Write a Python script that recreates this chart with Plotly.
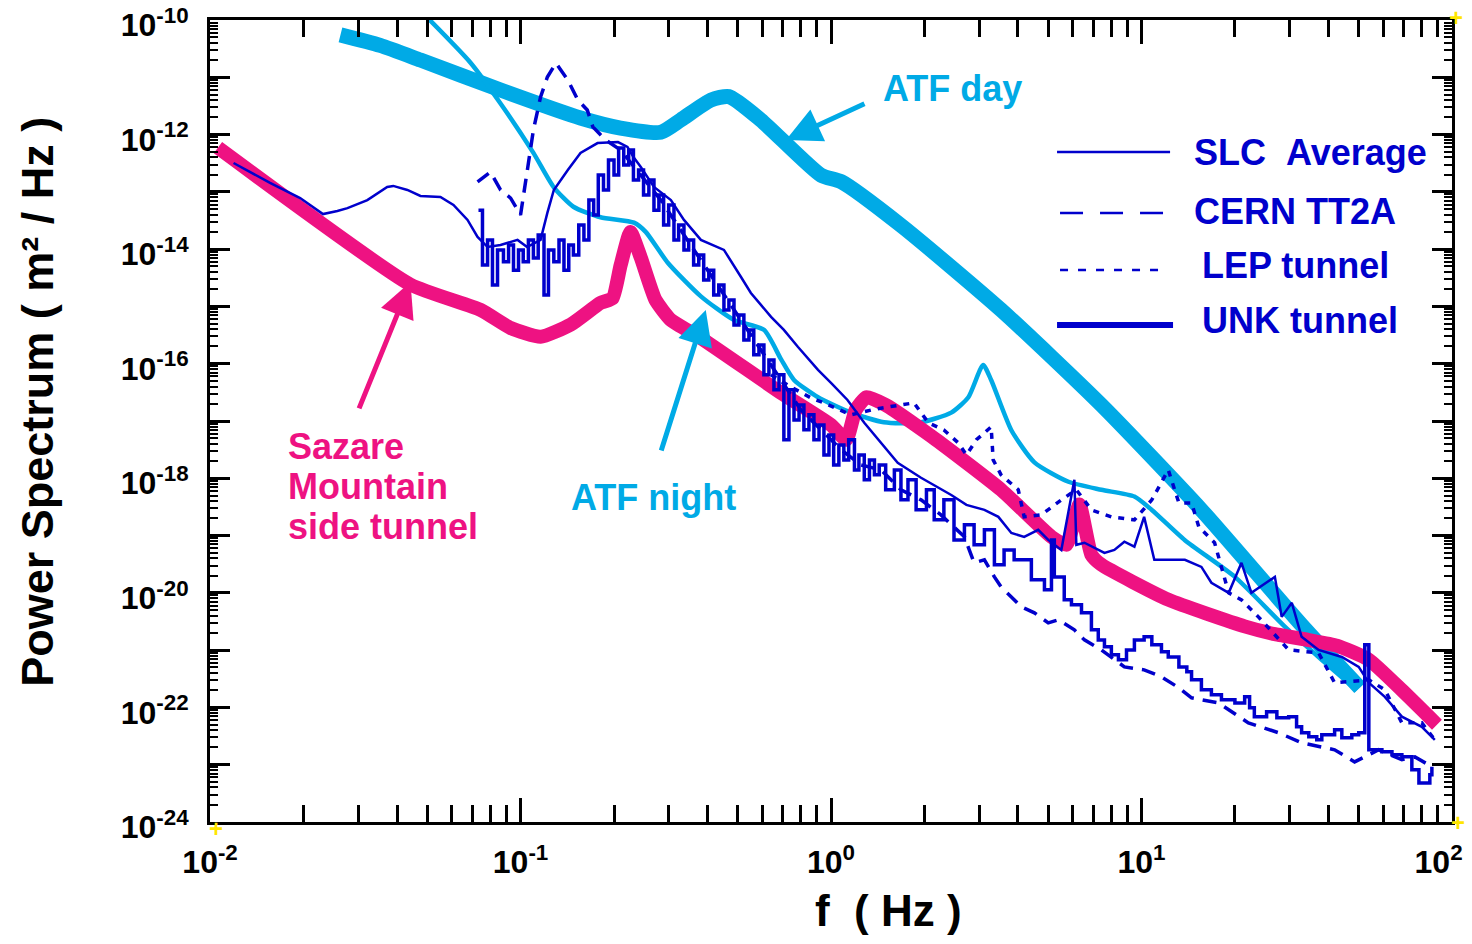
import numpy as np
import plotly.graph_objects as go

# ---------------- data (frequency in Hz, power spectrum in m^2/Hz) ----------------
sazare_f = [0.0106, 0.0442, 0.0743, 0.0929, 0.116, 0.145, 0.181, 0.198, 0.210, 0.226,
            0.244, 0.272, 0.305, 0.381, 0.690, 1.00, 1.12, 1.20, 1.30, 1.50, 2.18, 3.53,
            5.13, 5.73, 6.31, 6.90, 7.43, 12.2, 21.5, 26.9, 34.6, 42.6, 54.0, 69.0, 89.5]
sazare_psd = [5.9e-13, 2.4e-15, 8.7e-16, 4.2e-16, 2.95e-16, 4.8e-16, 1.15e-15, 1.4e-15, 5.2e-15, 2.0e-14,
              7.1e-15, 1.3e-15, 5.8e-16, 2.8e-16, 3.1e-17, 8.5e-18, 4.7e-18, 1.55e-17, 2.6e-17, 1.9e-17, 4.7e-18, 6.3e-19,
              9.5e-20, 6.9e-20, 3.5e-19, 4.6e-20, 3.1e-20, 7.6e-21, 2.6e-21, 1.9e-21, 1.5e-21, 1.2e-21, 6.8e-22, 2.0e-22, 5.0e-23]

atf_day_f = [0.0263, 0.0353, 0.0476, 0.0862, 0.156, 0.210, 0.283, 0.328, 0.410, 0.469,
             0.594, 0.929, 1.08, 1.68, 3.53, 7.43, 15.6, 32.8, 50.5]
atf_day_psd = [5.5e-11, 3.6e-11, 2.0e-11, 6.0e-12, 1.95e-12, 1.3e-12, 1.1e-12, 1.8e-12, 4.0e-12, 4.6e-12,
               1.8e-12, 1.95e-13, 1.5e-13, 2.6e-14, 8.7e-16, 1.9e-17, 2.8e-19, 2.75e-21, 2.2e-22]

atf_night_f = [0.0458, 0.069, 0.0862, 0.110, 0.128, 0.148, 0.181, 0.232, 0.253, 0.298, 0.381, 0.487,
               0.608, 0.690, 0.760, 0.908, 1.16, 1.48, 1.91, 2.44, 2.77, 3.09, 3.28, 3.81, 4.52,
               5.82, 7.43, 9.49, 10.8, 13.8, 20.0, 28.9, 37.2, 49.4]
atf_night_psd = [1.8e-10, 1.8e-11, 3.5e-12, 4.8e-13, 1.2e-13, 5.5e-14, 3.6e-14, 2.9e-14, 2.0e-14, 5.8e-15, 1.5e-15, 5.8e-16,
                 3.9e-16, 1.2e-16, 5.2e-17, 2.6e-17, 1.4e-17, 9.5e-18, 9.3e-18, 1.4e-17, 2.6e-17, 9.5e-17, 5.2e-17, 6.9e-18, 1.9e-18,
                 8.7e-19, 6.3e-19, 4.8e-19, 2.8e-19, 8.3e-20, 1.9e-20, 2.6e-21, 7.6e-22, 2.0e-22]

slc_f = [0.0119, 0.0156, 0.0195, 0.0231, 0.0257, 0.0277, 0.0321, 0.0372, 0.0389, 0.0432, 0.0476,
         0.0552, 0.0608, 0.0675, 0.0727, 0.0783, 0.0862, 0.0978, 0.105, 0.116, 0.122, 0.128, 0.142,
         0.156, 0.177, 0.206, 0.221, 0.231, 0.244, 0.269, 0.305, 0.336, 0.381, 0.452, 0.513, 0.552,
         0.641, 0.705, 0.783, 0.908, 1.00, 1.13, 1.28, 1.45, 1.64, 1.95, 2.44, 2.73, 3.12, 3.46,
         3.81, 4.19, 4.65, 5.01, 5.52, 6.08, 6.17, 6.55, 7.60, 8.18, 8.81, 9.49, 10.2, 11.0, 13.8,
         15.6, 16.8, 19.1, 21.0, 22.6, 26.9, 28.3, 30.5, 32.8, 37.2, 44.2, 50.1, 54.0, 60.8, 69.0,
         80.0, 88.1]
slc_psd = [3.19e-13, 1.43e-13, 7.8e-14, 4.1e-14, 4.65e-14, 5.2e-14, 7.2e-14, 1.22e-13, 1.27e-13, 1.08e-13, 8.5e-14,
           8.15e-14, 5.9e-14, 3.24e-14, 1.63e-14, 1.09e-14, 1.18e-14, 1.45e-14, 1.09e-14, 1.45e-14, 4.29e-14, 1.08e-13, 2.41e-13,
           4.77e-13, 7.1e-13, 7.4e-13, 6.1e-13, 4.06e-13, 2.72e-13, 1.22e-13, 7.2e-14, 3.24e-14, 1.45e-14, 9.7e-15, 3.27e-15, 1.72e-15,
           6.56e-16, 3.89e-16, 1.96e-16, 7.8e-17, 4.62e-17, 2.33e-17, 9.3e-18, 4.15e-18, 1.86e-18, 1.02e-18, 5.1e-19, 3.44e-19, 2.81e-19, 2.12e-19,
           1.11e-19, 9.5e-20, 1.26e-19, 8.4e-20, 5.6e-20, 9.4e-19, 6.9e-20, 7.5e-20, 4.99e-20, 5.6e-20, 7.8e-20, 6.4e-20, 2.12e-19, 3.77e-20, 3.77e-20,
           2.84e-20, 1.50e-20, 1.0e-20, 3.34e-20, 1.0e-20, 1.90e-20, 3.81e-21, 6.7e-21, 1.71e-21, 1.01e-21, 7.6e-22, 5.1e-22, 2.69e-22, 1.53e-22, 6.9e-23,
           4.58e-23, 2.72e-23]

cern_f = [0.0727, 0.0800, 0.0862, 0.0929, 0.100, 0.104, 0.110, 0.116, 0.122, 0.130, 0.142, 0.153,
          0.164, 0.171, 0.188, 0.210, 0.244, 0.283, 0.328, 0.381, 0.442, 0.513, 0.594, 0.690,
          0.800, 0.929, 1.08, 1.25, 1.45, 1.68, 1.95, 2.26, 2.69, 2.89, 3.12, 3.36, 3.53, 3.81,
          4.10, 4.52, 5.01, 5.40, 6.08, 6.55, 7.43, 8.81, 10.2, 11.6, 13.2, 14.5, 17.7, 22.1,
          27.7, 32.8, 41.9, 48.6, 58.1, 69.0, 76.0, 86.2]
cern_psd = [1.49e-13, 2.22e-13, 1.08e-13, 7.8e-14, 3.95e-14, 1.61e-13, 1.20e-12, 4.53e-12, 1.01e-11, 1.78e-11, 8.97e-12, 4.02e-12,
            2.69e-12, 1.36e-12, 8.05e-13, 5.38e-13, 1.97e-13, 7.2e-14, 2.16e-14, 6.48e-15, 1.94e-15, 5.81e-16, 1.74e-16, 5.21e-17,
            1.56e-17, 7.0e-18, 3.13e-18, 1.71e-18, 1.40e-18, 6.3e-19, 4.2e-19, 2.30e-19, 9.5e-20, 3.34e-20, 3.77e-20, 1.90e-20, 1.27e-20, 8.5e-21,
            5.7e-21, 4.48e-21, 2.99e-21, 3.38e-21, 2.26e-21, 1.51e-21, 1.01e-21, 5.1e-22, 4.53e-22, 3.42e-22, 2.20e-22, 1.47e-22, 1.20e-22, 5.38e-23,
            3.6e-23, 2.41e-23, 1.82e-23, 1.12e-23, 1.82e-23, 1.22e-23, 1.37e-23, 9.2e-24]

lep_f = [0.641, 0.743, 0.862, 0.949, 1.16, 1.35, 1.53, 1.85, 2.06, 2.31, 2.57, 2.73, 2.94,
         3.28, 3.33, 3.53, 4.01, 4.19, 4.76, 5.52, 6.17, 6.90, 8.00, 9.49, 10.8, 12.2, 13.2,
         14.5, 15.3, 17.2, 19.1, 21.0, 23.8, 29.8, 37.2, 41.9, 54.0, 60.8, 69.0, 80.0, 88.1]
lep_psd = [6.4e-17, 3.94e-17, 2.53e-17, 2.07e-17, 1.28e-17, 1.56e-17, 1.76e-17, 2.07e-17, 9.3e-18, 7.0e-18, 4.15e-18, 2.56e-18, 4.7e-18,
           7.9e-18, 2.09e-18, 1.15e-18, 6.3e-19, 2.12e-19, 2.30e-19, 4.2e-19, 6.3e-19, 2.81e-19, 2.12e-19, 1.88e-19, 4.2e-19, 1.40e-18, 3.72e-19,
           3.72e-19, 1.42e-19, 7.5e-20, 1.0e-20, 7.55e-21, 3.81e-21, 1.01e-21, 8.97e-22, 2.69e-22, 3.03e-22, 2.03e-22, 5.38e-23, 5.38e-23, 2.72e-23]

unk_f = [0.0732, 0.0754, 0.0783, 0.0812, 0.0843, 0.0881, 0.0915, 0.0949, 0.0985, 0.102, 0.106, 0.110,
         0.114, 0.119, 0.123, 0.128, 0.133, 0.138, 0.143, 0.148, 0.154, 0.160, 0.166, 0.172, 0.178,
         0.185, 0.192, 0.200, 0.207, 0.215, 0.223, 0.231, 0.240, 0.249, 0.259, 0.269, 0.279, 0.289,
         0.300, 0.312, 0.323, 0.336, 0.348, 0.361, 0.375, 0.389, 0.404, 0.419, 0.435, 0.452, 0.469,
         0.487, 0.505, 0.524, 0.544, 0.564, 0.586, 0.608, 0.631, 0.655, 0.680, 0.705, 0.732, 0.760,
         0.789, 0.818, 0.849, 0.881, 0.915, 0.949, 0.985, 1.02, 1.06, 1.10, 1.14, 1.19, 1.23, 1.28,
         1.33, 1.38, 1.43, 1.50, 1.60, 1.68, 1.77, 1.88, 2.03, 2.15, 2.31, 2.49, 2.69, 2.89, 3.12,
         3.36, 3.61, 3.89, 4.42, 4.87, 5.13, 5.24, 5.64, 5.95, 6.41, 6.90, 7.26, 7.60, 8.00, 8.43,
         8.95, 9.49, 10.2, 10.8, 11.6, 12.2, 13.2, 14.0, 14.5, 15.6, 16.8, 18.1, 20.0, 21.5, 22.3,
         23.1, 25.3, 27.3, 29.8, 31.6, 32.8, 34.6, 36.7, 38.1, 41.9, 44.2, 47.6, 50.1, 52.4, 54.0,
         59.5, 64.1, 69.0, 74.3, 78.3, 84.9, 86.2]
unk_psd = [4.8e-14, 5.3e-15, 1.45e-14, 2.37e-15, 9.7e-15, 6.0e-15, 1.18e-14, 4.3e-15, 9.7e-15, 6.0e-15, 1.45e-14, 7.0e-15,
           1.77e-14, 1.59e-15, 9.7e-15, 6.0e-15, 1.45e-14, 4.3e-15, 1.18e-14, 7.9e-15, 2.64e-14, 1.45e-14, 7.2e-14, 3.95e-14, 1.97e-13,
           1.08e-13, 3.6e-13, 1.97e-13, 5.83e-13, 2.94e-13, 5.38e-13, 1.61e-13, 2.41e-13, 8.8e-14, 1.61e-13, 4.8e-14, 8.8e-14, 2.64e-14,
           5.9e-14, 1.45e-14, 2.64e-14, 9.7e-15, 1.45e-14, 5.3e-15, 7.9e-15, 2.9e-15, 4.3e-15, 1.59e-15, 2.37e-15, 8.7e-16, 1.30e-15,
           4.75e-16, 7.1e-16, 2.6e-16, 3.89e-16, 1.43e-16, 2.13e-16, 6.4e-17, 1.16e-16, 3.5e-17, 6.4e-17, 4.7e-18, 3.5e-17, 1.04e-17,
           1.91e-17, 7.0e-18, 1.28e-17, 4.7e-18, 8.55e-18, 2.56e-18, 5.7e-18, 1.71e-18, 3.83e-18, 2.09e-18, 4.7e-18, 1.40e-18, 2.56e-18, 9.4e-19,
           2.09e-18, 1.15e-18, 1.71e-18, 6.3e-19, 1.40e-18, 4.2e-19, 9.4e-19, 2.81e-19, 6.3e-19, 1.88e-19, 4.2e-19, 8.4e-20, 1.54e-19, 6.9e-20, 1.26e-19,
           3.08e-20, 5.6e-20, 3.77e-20, 1.69e-20, 1.13e-20, 8.4e-20, 1.90e-20, 7.55e-21, 6.18e-21, 4.48e-21, 2.26e-21, 1.51e-21, 1.14e-21, 8.28e-22, 6.78e-22,
           1.01e-21, 1.51e-21, 1.71e-21, 1.24e-21, 9.33e-22, 7.6e-22, 5.1e-22, 4.18e-22, 3.03e-22, 2.03e-22, 1.66e-22, 1.36e-22, 1.20e-22, 1.53e-22, 9.84e-23,
           6.9e-23, 8.38e-23, 6.59e-23, 6.9e-23, 4.58e-23, 3.6e-23, 3.07e-23, 2.72e-23, 3.33e-23, 4.06e-23, 2.94e-23, 3.33e-23, 3.6e-23, 1.24e-21, 1.82e-23,
           1.68e-23, 1.49e-23, 1.37e-23, 8.15e-24, 4.8e-24, 6.67e-24, 9.2e-24]

# axis ticks
x_decades = [-2, -1, 0, 1, 2]
y_decades = list(range(-24, -9))
y_label_decades = [-24, -22, -20, -18, -16, -14, -12, -10]

# arrow tips (Hz, m^2/Hz)
atf_day_tip = (0.716, 8.05e-13)
atf_night_tip = (0.395, 8.7e-16)
sazare_tip = (0.0442, 2.68e-15)

# ---------------- styling ----------------
BLUE = "#0000CC"
CYAN = "#00AAE6"
PINK = "#EE1282"
FONT = "Liberation Sans"

fig = go.Figure()

fig.add_trace(go.Scatter(x=atf_day_f, y=atf_day_psd, mode="lines",
                         line=dict(color=CYAN, width=15, shape="spline", smoothing=0.6)))
fig.add_trace(go.Scatter(x=atf_night_f, y=atf_night_psd, mode="lines",
                         line=dict(color=CYAN, width=4.5, shape="spline", smoothing=0.6)))
fig.add_trace(go.Scatter(x=sazare_f, y=sazare_psd, mode="lines",
                         line=dict(color=PINK, width=14, shape="spline", smoothing=0.5)))

fig.add_trace(go.Scatter(x=unk_f, y=unk_psd, mode="lines",
                         line=dict(color=BLUE, width=3.5, shape="hv")))
fig.add_trace(go.Scatter(x=slc_f, y=slc_psd, mode="lines",
                         line=dict(color=BLUE, width=2.5)))
fig.add_trace(go.Scatter(x=cern_f, y=cern_psd, mode="lines",
                         line=dict(color=BLUE, width=3.5, dash="14px,9px")))
fig.add_trace(go.Scatter(x=lep_f, y=lep_psd, mode="lines",
                         line=dict(color=BLUE, width=3.5, dash="6px,7px")))

x_minor = [k * 10.0 ** e for e in range(-2, 2) for k in range(2, 10)]
y_minor = [k * 10.0 ** e for e in range(-24, -10) for k in range(2, 10)]


def power_label(e):
    return f"10<sup>{e}</sup>"


x_ticktext = [power_label(e) for e in x_decades]
x_ticktext[-1] = x_ticktext[-1] + "\u00a0\u00a0\u00a0"
y_ticktext = [power_label(e) if e in y_label_decades else "" for e in y_decades]

axis_common = dict(
    type="log", showline=True, linewidth=3, linecolor="black", mirror="allticks",
    ticks="inside", tickwidth=3, tickcolor="black", showgrid=False, zeroline=False,
    ticklabeloverflow="allow", automargin=False,
    tickfont=dict(family=FONT, size=32, color="black", weight="bold"),
)

fig.update_layout(
    width=1472, height=944,
    margin=dict(l=210, r=20, t=20, b=122, autoexpand=False),
    paper_bgcolor="white", plot_bgcolor="white",
    showlegend=False,
    xaxis=dict(axis_common, range=[-2.0003, 2.0003], tickvals=[10.0 ** e for e in x_decades],
               ticktext=x_ticktext, ticklen=24, ticklabelstandoff=10,
               minor=dict(ticks="inside", ticklen=17, tickwidth=3, tickcolor="black",
                          tickvals=x_minor, showgrid=False)),
    yaxis=dict(axis_common, range=[-24.0003, -9.9997], tickvals=[10.0 ** e for e in y_decades],
               ticktext=y_ticktext, ticklen=20, ticklabelstandoff=12, ticklabelshift=5,
               minor=dict(ticks="inside", ticklen=8, tickwidth=2, tickcolor="black",
                          tickvals=y_minor, showgrid=False)),
)

# axis titles
fig.add_annotation(text="Power Spectrum ( m² / Hz )", xref="paper", yref="paper",
                   x=-0.1385, y=0.524, xanchor="center", yanchor="middle",
                   textangle=-90, showarrow=False,
                   font=dict(family=FONT, size=45, color="black", weight="bold"))
fig.add_annotation(text="f\u00a0\u00a0( Hz )", xref="paper", yref="paper",
                   x=0.546, y=-0.11, xanchor="center", yanchor="middle", showarrow=False,
                   font=dict(family=FONT, size=44, color="black", weight="bold"))

# curve labels
label_font = dict(family=FONT, size=36, weight="bold")
fig.add_annotation(text="ATF day", x=np.log10(1.45), y=np.log10(6.5e-12),
                   xanchor="left", yanchor="middle",
                   showarrow=False, font=dict(label_font, color=CYAN))
fig.add_annotation(text="ATF night", x=np.log10(0.143), y=np.log10(4.55e-19),
                   xanchor="left", yanchor="middle",
                   showarrow=False, font=dict(label_font, color=CYAN))
for line_text, psd in [("Sazare", 3.53e-18), ("Mountain", 7.08e-19), ("side tunnel", 1.42e-19)]:
    fig.add_annotation(text=line_text, x=np.log10(0.0175), y=np.log10(psd),
                       xanchor="left", yanchor="middle",
                       showarrow=False, font=dict(label_font, color=PINK))

# arrows pointing to the curves
for (tip_f, tip_p), (dx, dy), color in [(atf_day_tip, (80, -37), CYAN),
                                        (atf_night_tip, (-45, 142), CYAN),
                                        (sazare_tip, (-52, 128), PINK)]:
    fig.add_annotation(text="", x=np.log10(tip_f), y=np.log10(tip_p), ax=dx, ay=dy,
                       showarrow=True, arrowhead=2, arrowsize=1.4, arrowwidth=5,
                       arrowcolor=color)

# legend drawn as line samples with labels
legend_rows = [
    ("SLC\u00a0\u00a0Average", 0.682, 0.773, 0.8354, 0.7907, 0.8354, dict(width=2.5)),
    ("CERN TT2A", 0.6844, 0.7689, 0.7594, 0.7907, 0.7606, dict(width=2.5, dash="23px,17px")),
    ("LEP tunnel", 0.6844, 0.7689, 0.6883, 0.7971, 0.6945, dict(width=2.5, dash="8px,10px")),
    ("UNK tunnel", 0.682, 0.7754, 0.6197, 0.7971, 0.6259, dict(width=6)),
]
for text, x0, x1, ly, tx, ty, style in legend_rows:
    fig.add_shape(type="line", xref="paper", yref="paper", x0=x0, x1=x1, y0=ly, y1=ly,
                  line=dict(color=BLUE, **style))
    fig.add_annotation(text=text, xref="paper", yref="paper", x=tx, y=ty,
                       xanchor="left", yanchor="middle",
                       showarrow=False, font=dict(label_font, color=BLUE))

# corner markers
for cx, cy in [(0.005, -0.008), (1.005, 0.0), (1.003, 1.003)]:
    fig.add_annotation(text="+", xref="paper", yref="paper", x=cx, y=cy,
                       xanchor="center", yanchor="middle", showarrow=False,
                       font=dict(family=FONT, size=24, color="#FFE600", weight="bold"))

fig.write_html("out.html")
